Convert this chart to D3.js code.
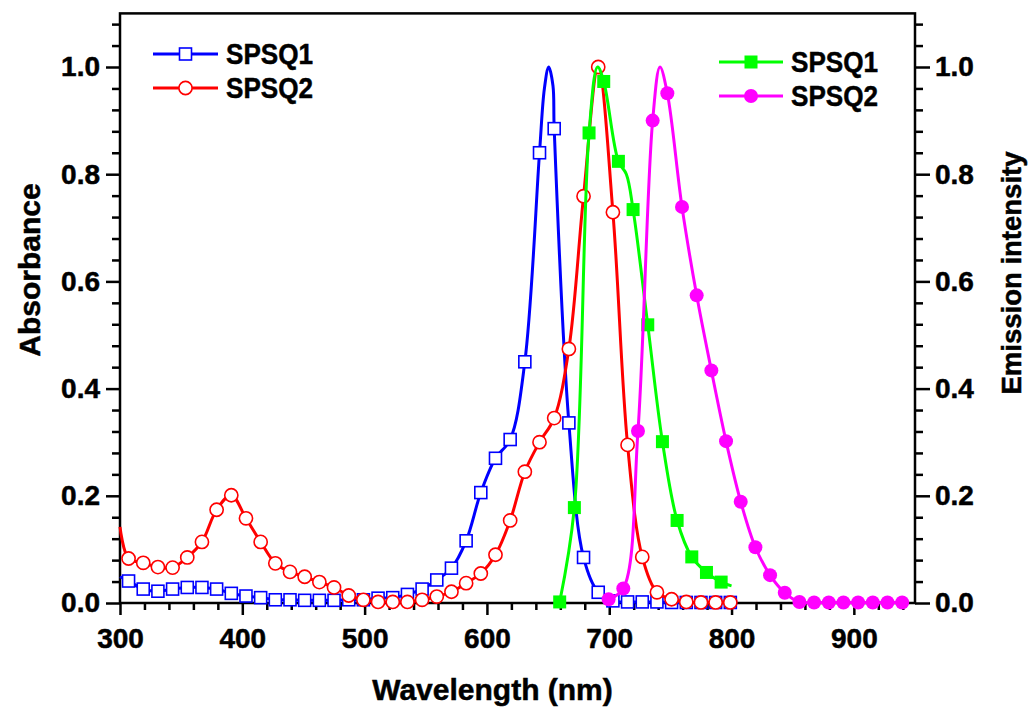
<!DOCTYPE html>
<html>
<head>
<meta charset="utf-8">
<script src="https://cdn.jsdelivr.net/npm/d3@7"></script>
<style>
  body { margin: 0; background: #fff; }
  text { font-family: "Liberation Sans", Arial, sans-serif; font-weight: bold; stroke: #000; stroke-width: 0.5px; }
</style>
</head>
<body>
<div id="chart"></div>
<script>
// absorbance marker wavelengths (nm), shared by both absorbance curves
const absWl = [307,319,331,343,355,367,379,391,403,415,427,439,451,463,475,487,499,511,523,535,547,559,571,583,595,607,619,631,643,655,667,679,691,703,715,727,739,751,763,775,787,799];
const q1Abs = [0.041,0.026,0.022,0.026,0.029,0.029,0.026,0.018,0.013,0.010,0.006,0.006,0.005,0.005,0.005,0.006,0.006,0.009,0.010,0.016,0.026,0.043,0.065,0.116,0.206,0.270,0.305,0.450,0.840,0.885,0.336,0.085,0.020,0.004,0.002,0.002,0.002,0.001,0.001,0.001,0.001,0.001];
const q2Abs = [0.083,0.075,0.067,0.066,0.085,0.114,0.174,0.201,0.158,0.114,0.074,0.058,0.049,0.039,0.029,0.014,0.006,0.002,0.002,0.002,0.006,0.012,0.021,0.037,0.055,0.090,0.154,0.245,0.300,0.345,0.474,0.759,1.000,0.729,0.295,0.086,0.020,0.007,0.002,0.001,0.001,0.001];

// emission marker wavelengths
const q1EmWl = [659.5,671.5,683.5,695.5,707.5,719.5,731.5,743.5,755.5,767.5,779.5,791.5];
const q1Em = [0.002,0.178,0.877,0.973,0.824,0.734,0.519,0.301,0.154,0.086,0.057,0.039];
const q2EmWl = [699.5,711.5,723.5,735.5,747.5,759.5,771.5,783.5,795.5,807.5,819.5,831.5,843.5,855.5,867.5,879.5,891.5,903.5,915.5,927.5,939.5];
const q2Em = [0.007,0.027,0.321,0.900,0.951,0.739,0.574,0.434,0.302,0.189,0.104,0.052,0.019,0.002,0.001,0.001,0.001,0.001,0.001,0.001,0.001];

// extra points of the curves that carry no marker
const q1AbsExtra = [[300,0.049],[647,0.96],[650.5,1.0],[654,0.965]];
const q2AbsExtra = [[300,0.142]];
const q1EmExtra = [[690.5,1.0],[714,0.80],[800,0.032]];
const q2EmExtra = [[741.5,1.0]];

const xMajor = [300,400,500,600,700,800,900];
const yMajor = [0,0.2,0.4,0.6,0.8,1.0];

const W = 1032, H = 713;
const pLeft = 120, pRight = 915, pTop = 13.4, pBottom = 603;

const svg = d3.select("#chart").append("svg")
    .attr("width", W).attr("height", H);

const x = d3.scaleLinear().domain([300, 950]).range([pLeft, pRight]);
const y = d3.scaleLinear().domain([0, 1.1]).range([pBottom, pTop]);

// minor tick values
const xMinor = d3.range(300, 951, 20).filter(v => v % 100 !== 0);
const yMinor = d3.range(0, 28).map(i => +(i * 0.04).toFixed(2)).filter(v => v <= 1.1 && Math.abs(v / 0.2 - Math.round(v / 0.2)) > 1e-6);

function styleAxis(g) {
  g.select(".domain").remove();
  g.selectAll("line").attr("stroke", "#000").attr("stroke-width", 2.5);
  g.selectAll("text").attr("font-size", 28).attr("fill", "#000");
}

// x axis
svg.append("g").attr("transform", `translate(0,${pBottom})`)
  .call(d3.axisBottom(x).tickValues(xMajor).tickSize(12).tickPadding(13).tickFormat(d3.format("d")))
  .call(styleAxis);
svg.append("g").attr("transform", `translate(0,${pBottom})`)
  .call(d3.axisBottom(x).tickValues(xMinor).tickSize(7).tickFormat(""))
  .call(styleAxis);

// left axis
svg.append("g").attr("transform", `translate(${pLeft},0)`)
  .call(d3.axisLeft(y).tickValues(yMajor).tickSize(14).tickPadding(6).tickFormat(d3.format(".1f")))
  .call(styleAxis);
svg.append("g").attr("transform", `translate(${pLeft},0)`)
  .call(d3.axisLeft(y).tickValues(yMinor).tickSize(8).tickFormat(""))
  .call(styleAxis);

// right axis
svg.append("g").attr("transform", `translate(${pRight},0)`)
  .call(d3.axisRight(y).tickValues(yMajor).tickSize(15).tickPadding(5).tickFormat(d3.format(".1f")))
  .call(styleAxis);
svg.append("g").attr("transform", `translate(${pRight},0)`)
  .call(d3.axisRight(y).tickValues(yMinor).tickSize(8).tickFormat(""))
  .call(styleAxis);

// frame
svg.append("rect")
  .attr("x", pLeft).attr("y", pTop)
  .attr("width", pRight - pLeft).attr("height", pBottom - pTop)
  .attr("fill", "none").attr("stroke", "#000").attr("stroke-width", 2.5);

// titles
svg.append("text").attr("x", (pLeft + pRight) / 2 - 25).attr("y", 700)
  .attr("text-anchor", "middle").attr("font-size", 30).text("Wavelength (nm)");
svg.append("text").attr("transform", "translate(40,270) rotate(-90)")
  .attr("text-anchor", "middle").attr("font-size", 30).text("Absorbance");
svg.append("text").attr("transform", "translate(1021,273) rotate(-90)")
  .attr("text-anchor", "middle").attr("font-size", 28)
  .attr("textLength", 243).attr("lengthAdjust", "spacingAndGlyphs").text("Emission intensity");

const line = d3.line()
  .x(d => x(d[0])).y(d => y(d[1]))
  .curve(d3.curveCatmullRom.alpha(0.5));

function pts(wl, vals) { return wl.map((w, i) => [w, vals[i]]); }

function drawMarkers(g, data, shape, color, filled) {
  if (shape === "square") {
    const s = filled ? 13 : 12;
    g.selectAll("rect.m").data(data).join("rect").attr("class", "m")
      .attr("x", d => x(d[0]) - s / 2).attr("y", d => y(d[1]) - s / 2)
      .attr("width", s).attr("height", s)
      .attr("fill", filled ? color : "#fff")
      .attr("stroke", color).attr("stroke-width", filled ? 0 : 1.6);
  } else {
    g.selectAll("circle.m").data(data).join("circle").attr("class", "m")
      .attr("cx", d => x(d[0])).attr("cy", d => y(d[1]))
      .attr("r", filled ? 7 : 6.6)
      .attr("fill", filled ? color : "#fff")
      .attr("stroke", color).attr("stroke-width", filled ? 0 : 1.6);
  }
}

const series = [
  {wl: absWl, v: q1Abs, extra: q1AbsExtra, color: "#0000ff", shape: "square", filled: false},
  {wl: absWl, v: q2Abs, extra: q2AbsExtra, color: "#ff0000", shape: "circle", filled: false},
  {wl: q1EmWl, v: q1Em, extra: q1EmExtra, color: "#00ff00", shape: "square", filled: true},
  {wl: q2EmWl, v: q2Em, extra: q2EmExtra, color: "#ff00ff", shape: "circle", filled: true}
];

series.forEach(s => {
  const marks = pts(s.wl, s.v);
  const all = marks.concat(s.extra).sort((a, b) => a[0] - b[0]);
  const g = svg.append("g");
  g.append("path").datum(all)
    .attr("d", line).attr("fill", "none")
    .attr("stroke", s.color).attr("stroke-width", 3);
  drawMarkers(g, marks, s.shape, s.color, s.filled);
});

// legends
const legends = [
  {x1: 153, x2: 218, yy: 54, label: "SPSQ1", s: series[0]},
  {x1: 153, x2: 218, yy: 88, label: "SPSQ2", s: series[1]},
  {x1: 719, x2: 783, yy: 62, label: "SPSQ1", s: series[2]},
  {x1: 719, x2: 783, yy: 96, label: "SPSQ2", s: series[3]}
];
legends.forEach(l => {
  const g = svg.append("g");
  g.append("line").attr("x1", l.x1).attr("x2", l.x2).attr("y1", l.yy).attr("y2", l.yy)
    .attr("stroke", l.s.color).attr("stroke-width", 3);
  const cx = (l.x1 + l.x2) / 2;
  if (l.s.shape === "square") {
    const sz = l.s.filled ? 13 : 12;
    g.append("rect").attr("x", cx - sz / 2).attr("y", l.yy - sz / 2).attr("width", sz).attr("height", sz)
      .attr("fill", l.s.filled ? l.s.color : "#fff").attr("stroke", l.s.color).attr("stroke-width", l.s.filled ? 0 : 1.6);
  } else {
    g.append("circle").attr("cx", cx).attr("cy", l.yy).attr("r", l.s.filled ? 7 : 6.6)
      .attr("fill", l.s.filled ? l.s.color : "#fff").attr("stroke", l.s.color).attr("stroke-width", l.s.filled ? 0 : 1.6);
  }
  g.append("text").attr("x", l.x2 + 8).attr("y", l.yy + 10)
    .attr("font-size", 29).attr("textLength", 87).attr("lengthAdjust", "spacingAndGlyphs")
    .text(l.label);
});
</script>
</body>
</html>
